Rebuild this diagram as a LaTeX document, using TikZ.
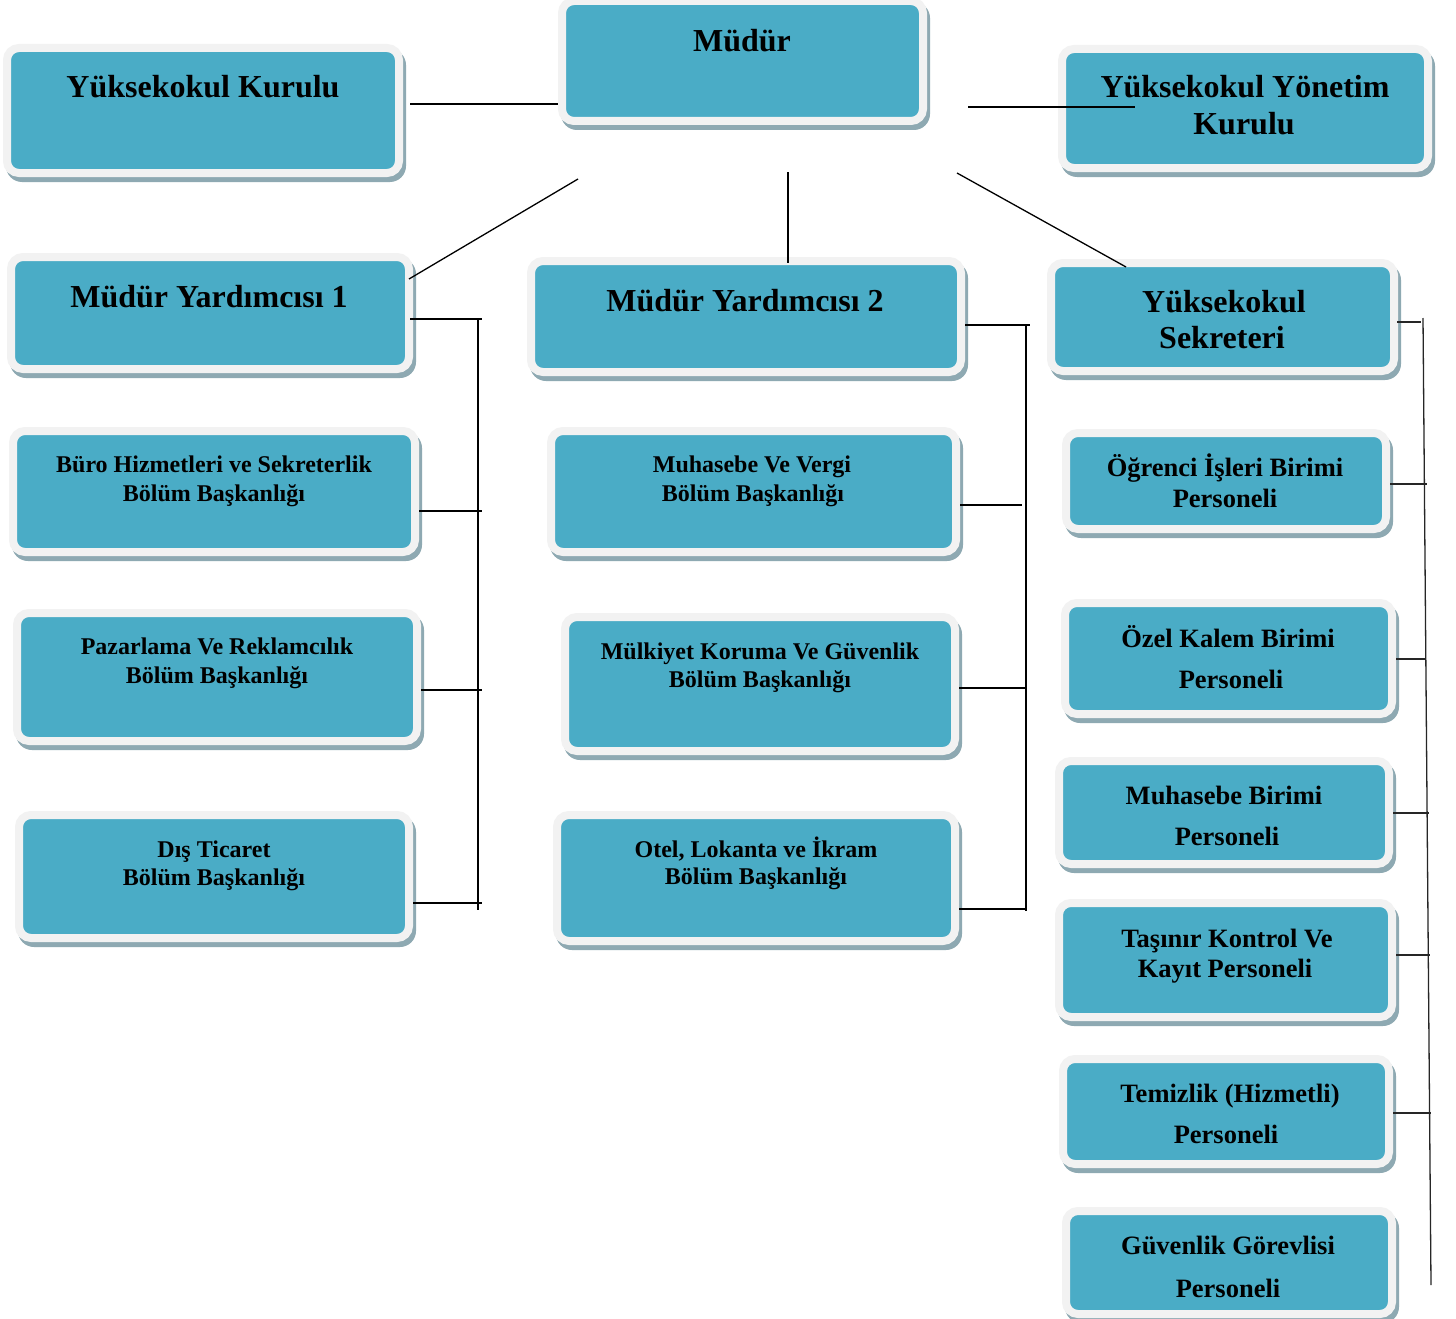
\documentclass[tikz,border=0pt]{standalone}
\usepackage{fontspec}
\setmainfont{Liberation Serif}
\usetikzlibrary{calc}
\definecolor{boxfill}{HTML}{4AACC6}
\definecolor{edgec}{HTML}{F2F2F2}
\definecolor{shadowc}{HTML}{8EA9B2}
\newcommand\fA{\fontsize{32}{37}\selectfont\bfseries}
\newcommand\fB{\fontsize{24}{29}\selectfont\bfseries}
\newcommand\fC{\fontsize{26.5}{31}\selectfont\bfseries}
\newcommand\obox[5]{%
  \fill[shadowc, rounded corners=16pt] (#2+3,#3+5) rectangle (#4+3,#5+5);
  \node[orgbox, minimum width={(#4-#2-8)*1pt}, minimum height={(#5-#3-8)*1pt}] (#1) at ({(#2+#4)/2},{(#3+#5)/2}) {};}
\begin{document}
\begin{tikzpicture}[x=1pt,y=-1pt,
  orgbox/.style={rectangle, rounded corners=12pt, fill=boxfill, draw=edgec, line width=8pt, inner sep=0pt},
  tA/.style={font=\fA, anchor=base, inner sep=0pt},
  tB/.style={font=\fB, anchor=base, inner sep=0pt},
  tC/.style={font=\fC, anchor=base, inner sep=0pt},
  conn/.style={line width=1.6pt, black},
  connr/.style={line width=1.3pt, black!85}]
\useasboundingbox (0,0) rectangle (1456,1319);
\fill[white] (0,0) rectangle (1456,1319);
% boxes
\obox{yk}{3}{44}{403}{177}
\obox{mudur}{558}{-3}{927}{125}
\obox{yyk}{1058}{45}{1432}{172}
\obox{my1}{7}{253}{413}{373}
\obox{my2}{527}{257}{965}{376}
\obox{ys}{1047}{259}{1398}{375}
\obox{buro}{9}{427}{419}{556}
\obox{paz}{13}{609}{421}{745}
\obox{dis}{15}{811}{413}{942}
\obox{muh}{547}{427}{960}{556}
\obox{mulk}{561}{613}{959}{755}
\obox{otel}{553}{811}{959}{945}
\obox{ogr}{1062}{429}{1390}{533}
\obox{ozel}{1061}{599}{1396}{718}
\obox{mbir}{1055}{757}{1393}{868}
\obox{tas}{1055}{899}{1396}{1021}
\obox{tem}{1059}{1055}{1393}{1168}
\obox{guv}{1062}{1207}{1396}{1318}
% free ends
\coordinate (a1) at (410,104);
\coordinate (a2) at (968,107);
\coordinate (a3) at (1135,107);
\coordinate (a4) at (578,179);
\coordinate (a5) at (409,279);
\coordinate (a6) at (788,172);
\coordinate (a7) at (957,173);
\coordinate (a8) at (1126,267);
% top connectors
\draw[conn] (a1) -- (a1 -| mudur.west);
\draw[conn] (a2) -- (a3);
\draw[conn, line width=1.3pt] (a4) -- (a5);
\draw[conn] (a6) -- ([yshift=-6pt]a6 |- my2.north);
\draw[conn, line width=1.3pt] (a7) -- (a8);
% left bus
\coordinate (b1t) at (478,319);
\coordinate (b1b) at (478,910);
\draw[conn] ([xshift=-3pt]b1t -| my1.east) -- ([xshift=4pt]b1t);
\draw[conn] (b1t) -- (b1b);
\coordinate (s11) at (482,511);
\coordinate (s12) at (482,690);
\coordinate (s13) at (482,903);
\draw[conn] (s11 -| buro.east) -- (s11);
\draw[conn] (s12 -| paz.east) -- (s12);
\draw[conn] (s13 -| dis.east) -- (s13);
% middle bus
\coordinate (b2t) at (1026,325);
\coordinate (b2b) at (1026,911);
\draw[conn] (b2t -| my2.east) -- ([xshift=4pt]b2t);
\draw[conn] (b2t) -- (b2b);
\coordinate (s21) at (1022,505);
\coordinate (s22) at (1026,688);
\coordinate (s23) at (1026,909);
\draw[conn] (s21 -| muh.east) -- (s21);
\draw[conn] (s22 -| mulk.east) -- (s22);
\draw[conn] (s23 -| otel.east) -- (s23);
% right bus
\coordinate (b3t) at (1423,318);
\coordinate (b3b) at (1431,1285);
\draw[connr] (b3t) -- (b3b);
\coordinate (s30) at (1421,322);
\coordinate (s31) at (1427,484);
\coordinate (s32) at (1426,659);
\coordinate (s33) at (1429,813);
\coordinate (s34) at (1430,955);
\coordinate (s35) at (1431,1113);
\draw[connr] ([xshift=-1pt]s30 -| ys.east) -- (s30);
\draw[connr] (s31 -| ogr.east) -- (s31);
\draw[connr] (s32 -| ozel.east) -- (s32);
\draw[connr] (s33 -| mbir.east) -- (s33);
\draw[connr] (s34 -| tas.east) -- (s34);
\draw[connr] (s35 -| tem.east) -- (s35);
% texts
\node[tA] (t-yk) at (203,98) {Yüksekokul Kurulu};
\node[tA] (t-mudur) at (742,52) {Müdür};
\node[tA] (t-yyk1) at (1245,98) {Yüksekokul Yönetim};
\node[tA] (t-yyk2) at (1244,135) {Kurulu};
\node[tA] (t-my1) at (209,307) {Müdür Yardımcısı 1};
\node[tA] (t-my2) at (745,311) {Müdür Yardımcısı 2};
\node[tA] (t-ys1) at (1224,312) {Yüksekokul};
\node[tA] (t-ys2) at (1222,348) {Sekreteri};
\node[tB] (t-buro1) at (214,472) {Büro Hizmetleri ve Sekreterlik};
\node[tB] (t-buro2) at (214,501) {Bölüm Başkanlığı};
\node[tB] (t-paz1) at (217,654) {Pazarlama Ve Reklamcılık};
\node[tB] (t-paz2) at (217,683) {Bölüm Başkanlığı};
\node[tB] (t-dis1) at (214,857) {Dış Ticaret};
\node[tB] (t-dis2) at (214,885) {Bölüm Başkanlığı};
\node[tB] (t-muh1) at (752,472) {Muhasebe Ve Vergi};
\node[tB] (t-muh2) at (753,501) {Bölüm Başkanlığı};
\node[tB] (t-mulk1) at (760,659) {Mülkiyet Koruma Ve Güvenlik};
\node[tB] (t-mulk2) at (760,687) {Bölüm Başkanlığı};
\node[tB] (t-otel1) at (756,857) {Otel, Lokanta ve İkram};
\node[tB] (t-otel2) at (756,884) {Bölüm Başkanlığı};
\node[tC] (t-ogr1) at (1225,476) {Öğrenci İşleri Birimi};
\node[tC] (t-ogr2) at (1225,507) {Personeli};
\node[tC] (t-ozel1) at (1228,647) {Özel Kalem Birimi};
\node[tC] (t-ozel2) at (1231,688) {Personeli};
\node[tC] (t-mbir1) at (1224,804) {Muhasebe Birimi};
\node[tC] (t-mbir2) at (1227,845) {Personeli};
\node[tC] (t-tas1) at (1227,947) {Taşınır Kontrol Ve};
\node[tC] (t-tas2) at (1225,977) {Kayıt Personeli};
\node[tC] (t-tem1) at (1230,1102) {Temizlik (Hizmetli)};
\node[tC] (t-tem2) at (1226,1143) {Personeli};
\node[tC] (t-guv1) at (1228,1254) {Güvenlik Görevlisi};
\node[tC] (t-guv2) at (1228,1297) {Personeli};
\end{tikzpicture}
\end{document}
